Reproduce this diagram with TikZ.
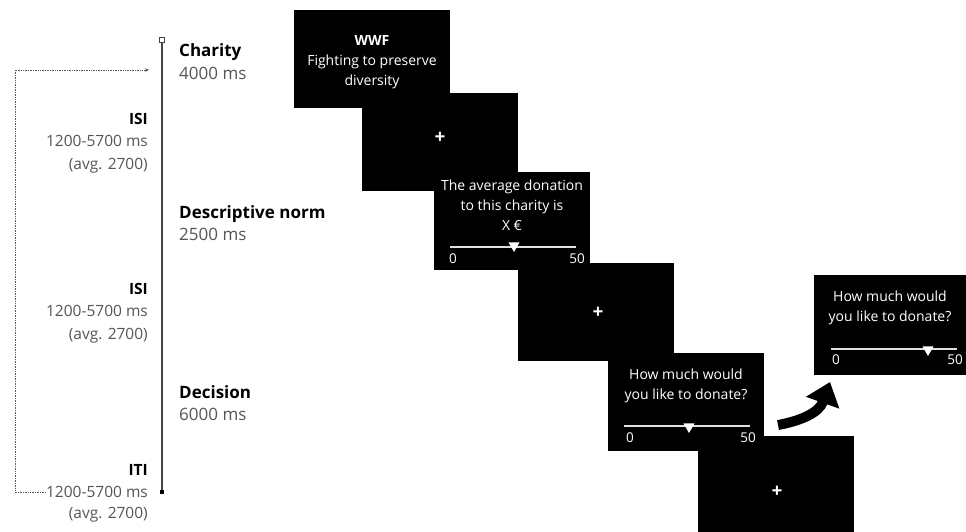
\documentclass[tikz,border=0pt]{standalone}
\usepackage{fontspec}
\setmainfont{Open Sans}
\usetikzlibrary{arrows.meta,positioning,shapes.geometric}
\definecolor{labelgray}{HTML}{555555}
\definecolor{linegray}{HTML}{444444}

\begin{document}
\begin{tikzpicture}[x=1pt,y=-1pt,
    screen/.style={fill=black,inner sep=0pt,minimum width=156pt,minimum height=98pt,anchor=north west},
    screentext/.style={text=white,align=center,inner sep=0pt,font=\fontsize{14}{20}\selectfont},
    ticklabel/.style={text=white,inner sep=0pt,font=\fontsize{13.5}{15}\selectfont},
    fixation/.style={text=white,inner sep=0pt,font=\bfseries\fontsize{19}{20}\selectfont},
    slider/.style={draw=white!88!black,line width=1.6pt},
    knob/.style={fill=white,regular polygon,regular polygon sides=3,shape border rotate=180,inner sep=0pt,minimum size=13pt},
    stage/.style={anchor=west,align=left,inner sep=0pt,font=\fontsize{17}{22.5}\selectfont,text=labelgray},
    interval/.style={anchor=east,align=right,inner sep=0pt,font=\fontsize{15.5}{22.5}\selectfont,text=labelgray}]
  \useasboundingbox (0,0) rectangle (966,532);

  % timeline
  \node[draw=linegray,fill=white,line width=0.9pt,inner sep=0pt,minimum size=4.5pt] (start mark) at (162,40) {};
  \node[fill=black,inner sep=0pt,minimum size=4.5pt] (end mark) at (162,492) {};
  \draw[linegray,line width=1.4pt] (start mark) -- (end mark);

  \node[stage] (charity) at (179,61.5) {\textcolor{black}{\bfseries Charity}\\4000 ms};
  \node[stage] (norm) at (179,223) {\textcolor{black}{\bfseries Descriptive norm}\\2500 ms};
  \node[stage] (decision) at (179,403) {\textcolor{black}{\bfseries Decision}\\6000 ms};

  \node[interval] (isi1) at (148,143) {\textcolor{black}{\bfseries ISI}\\1200-5700 ms\\(avg. 2700)};
  \node[interval] (isi2) at (148,313) {\textcolor{black}{\bfseries ISI}\\1200-5700 ms\\(avg. 2700)};
  \node[interval,text=black,font=\bfseries\fontsize{15.5}{22.5}\selectfont] (iti) at (148,470) {ITI};
  \node[interval] (iti range) at (148,492) {1200-5700 ms};
  \node[interval] (iti avg) at (148,514.5) {(avg. 2700)};

  % loop back to the next trial
  \coordinate (loop left) at (15,70);
  \coordinate (loop end) at (149,70);
  \draw[labelgray,densely dotted,line width=0.7pt,-{Stealth[length=4pt,width=3.5pt]}] (iti range.west) -| (loop left) -- (loop end);

  % screens
  \node[screen] (charity screen) at (294,10) {};
  \node[screen] (isi1 screen) at (362,93) {};
  \node[screen] (norm screen) at (434,172) {};
  \node[screen] (isi2 screen) at (518,263) {};
  \node[screen] (iti screen) at (698,436) {};
  \node[screen] (decision screen) at (608,353) {};
  \node[screen,minimum width=152pt,minimum height=100pt] (response screen) at (814,275) {};

  \node[screentext] (charity text) at (372,62) {\textbf{WWF}\\Fighting to preserve\\diversity};
  \node[fixation] (fix1) at (440,138) {+};
  \node[fixation] (fix2) at (598,313) {+};
  \node[fixation] (fix3) at (777,492) {+};

  \node[screentext] (norm text) at (512,205) {The average donation\\to this charity is\\X €};
  \coordinate (norm left) at (450,247);
  \coordinate (norm right) at (576,247);
  \draw[slider] (norm left) -- (norm right);
  \node[knob] (norm knob) at (514,245.5) {};
  \node[ticklabel,anchor=west] (norm zero) at (449,259) {0};
  \node[ticklabel,anchor=east] (norm max) at (585,259) {50};

  \node[screentext] (decision text) at (686,386) {How much would\\you like to donate?};
  \coordinate (decision left) at (624,426);
  \coordinate (decision right) at (750,426);
  \draw[slider] (decision left) -- (decision right);
  \node[knob] (decision knob) at (689,426.5) {};
  \node[ticklabel,anchor=west] (decision zero) at (626,438) {0};
  \node[ticklabel,anchor=east] (decision max) at (756,438) {50};

  \node[screentext] (response text) at (890,308) {How much would\\you like to donate?};
  \coordinate (response left) at (831,349);
  \coordinate (response right) at (957,349);
  \draw[slider] (response left) -- (response right);
  \node[knob] (response knob) at (928,349.5) {};
  \node[ticklabel,anchor=west] (response zero) at (832,360) {0};
  \node[ticklabel,anchor=east] (response max) at (963,360) {50};

  \coordinate (arrow tail) at (778,425);
  \coordinate (arrow tip) at (830,382);
  \draw[line width=10pt,-{Triangle[length=22pt,width=34pt]}] (arrow tail) .. controls (800,421) and (819,413) .. (arrow tip);
\end{tikzpicture}
\end{document}
